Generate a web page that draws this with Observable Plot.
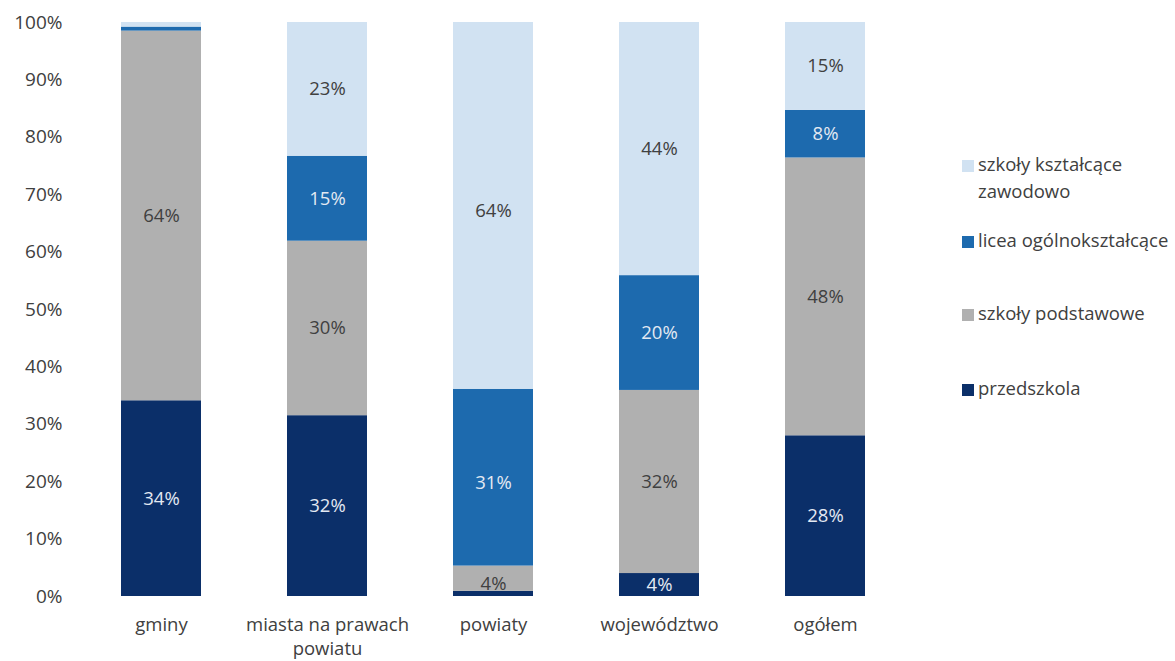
<!DOCTYPE html>
<html><head><meta charset="utf-8">
<script src="https://cdn.jsdelivr.net/npm/d3@7"></script>
<script src="https://cdn.jsdelivr.net/npm/@observablehq/plot@0.6"></script>
<style>
body{margin:0;background:#fff;font-family:"Open Sans",sans-serif;}
#wrap{position:relative;width:1175px;height:661px;}
#legend{position:absolute;left:962px;top:0;font-size:18.5px;color:#404040;}
.li{position:absolute;left:0;white-space:nowrap;line-height:27px;}
.sw{display:inline-block;width:12px;height:12px;margin-right:4px;vertical-align:-1px;}
</style></head><body>
<div id="wrap"><div id="chart"></div><div id="legend"></div></div>
<script>
const categories = ["gminy", "miasta na prawach\npowiatu", "powiaty", "województwo", "ogółem"];
const series = ["przedszkola", "szkoły podstawowe", "licea ogólnokształcące", "szkoły kształcące zawodowo"];
const colors = ["#0b2f69", "#b0b0b0", "#1d6aae", "#d1e2f2"];
const labelColors = ["#e3e9f2", "#404040", "#e3e9f2", "#404040"];
const przedszkola = [34.1, 31.5, 0.9, 4.0, 28.0];
const podstawowe = [64.4, 30.4, 4.4, 31.9, 48.4];
const licea = [0.7, 14.8, 30.8, 20.0, 8.3];
const zawodowe = [0.8, 23.3, 63.9, 44.1, 15.3];
const yTicks = [0,10,20,30,40,50,60,70,80,90,100];

const vals = [przedszkola, podstawowe, licea, zawodowe];
const data = [];
series.forEach((s, i) => categories.forEach((c, j) => data.push({cat: c, series: s, value: vals[i][j], lc: labelColors[i]})));

const chart = Plot.plot({
  width: 1175, height: 661,
  marginLeft: 78, marginRight: 267, marginTop: 22, marginBottom: 65,
  style: {fontFamily: "'Open Sans', sans-serif", fontSize: "18.5px", color: "#404040", background: "#fff"},
  x: {domain: categories, paddingInner: 0.52, paddingOuter: 0.26, label: null},
  y: {domain: [0, 100], ticks: yTicks, label: null},
  color: {domain: series, range: colors},
  marks: [
    Plot.gridY(yTicks, {stroke: "#d9d9d9", strokeOpacity: 1, strokeWidth: 2, x1: 75, x2: 910}),
    Plot.axisY(yTicks, {tickSize: 0, tickPadding: 16, tickFormat: d => d + "%", fill: "#404040", fontSize: 19, label: null}),
    Plot.axisX({tickSize: 0, tickPadding: 17, fill: "#404040", fontSize: 18.5, label: null, lineHeight: 1.3}),
    Plot.barY(data, Plot.stackY({x: "cat", y: "value", z: "series", fill: "series", order: series})),
    Plot.text(data.filter(d => d.value > 2), Plot.stackY({x: "cat", y: "value", z: "series", order: series,
      text: d => Math.round(d.value) + "%", fill: "lc", fontSize: 18.5})),
  ]
});
document.getElementById("chart").appendChild(chart);

const legendPos = [164, 240, 313, 388];
const leg = document.getElementById("legend");
const legOrder = [3, 2, 1, 0];
const legText = ["przedszkola", "szkoły podstawowe", "licea ogólnokształcące", "szkoły kształcące<br><span style='padding-left:16px'>zawodowo</span>"];
legOrder.forEach((si, k) => {
  const d = document.createElement("div");
  d.className = "li";
  d.style.top = (legendPos[k] - 14) + "px";
  d.innerHTML = `<span class="sw" style="background:${colors[si]}"></span>` + legText[si];
  leg.appendChild(d);
});
</script></body></html>
